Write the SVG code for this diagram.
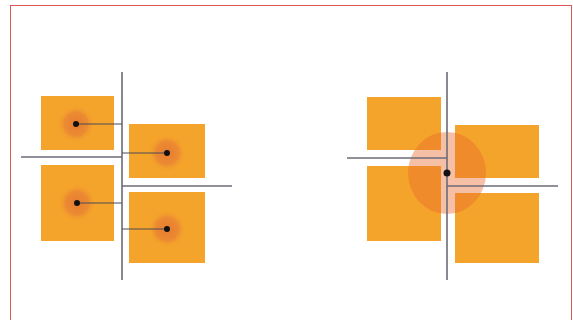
<svg xmlns="http://www.w3.org/2000/svg" width="573" height="320" viewBox="0 0 573 320">
<defs>
<radialGradient id="glow">
<stop offset="0" stop-color="#e67d30"/>
<stop offset="0.6" stop-color="#ec8a33"/>
<stop offset="1" stop-color="#f4a42a" stop-opacity="0"/>
</radialGradient>
</defs>
<style>
.sq{fill:#f4a42a}
.ln{stroke:#6b6b78;stroke-width:1.6;fill:none}
.cn{stroke:#4a4a55;stroke-width:1;fill:none}
.dot{fill:#111}
</style>
<rect x="10.5" y="5.5" width="561" height="330" fill="#fff" stroke="#e05555" stroke-width="1"/>
<g id="left">
<g id="sq-l1"><rect class="sq" x="41" y="96" width="73" height="54"/><circle cx="76" cy="124" r="19" fill="url(#glow)"/></g>
<g id="sq-l2"><rect class="sq" x="129" y="124" width="76" height="54"/><circle cx="167" cy="153" r="19" fill="url(#glow)"/></g>
<g id="sq-l3"><rect class="sq" x="41" y="165" width="73" height="76"/><circle cx="77" cy="203" r="19" fill="url(#glow)"/></g>
<g id="sq-l4"><rect class="sq" x="129" y="192" width="76" height="71"/><circle cx="167" cy="229" r="19" fill="url(#glow)"/></g>
</g>
<g id="right">
<g id="sq-r1"><rect class="sq" x="367" y="97" width="74" height="53"/></g>
<g id="sq-r2"><rect class="sq" x="455" y="125" width="84" height="53"/></g>
<g id="sq-r3"><rect class="sq" x="367" y="166" width="74" height="75"/></g>
<g id="sq-r4"><rect class="sq" x="455" y="193" width="84" height="70"/></g>
<g id="merged"><ellipse cx="447" cy="173" rx="39" ry="41" fill="#e8682a" fill-opacity="0.42"/></g>
</g>
<g id="connectors">
<line class="ln" x1="122" y1="72" x2="122" y2="280"/>
<line class="ln" x1="21" y1="157" x2="122" y2="157"/>
<line class="ln" x1="122" y1="186" x2="232" y2="186"/>
<line class="cn" x1="76" y1="124" x2="122" y2="124"/>
<line class="cn" x1="122" y1="153" x2="167" y2="153"/>
<line class="cn" x1="77" y1="203" x2="122" y2="203"/>
<line class="cn" x1="122" y1="229" x2="167" y2="229"/>
<line class="ln" x1="447" y1="72" x2="447" y2="280"/>
<line class="ln" x1="347" y1="158" x2="447" y2="158"/>
<line class="ln" x1="447" y1="186" x2="558" y2="186"/>
</g>
<g id="dots">
<circle class="dot" cx="76" cy="124" r="3"/>
<circle class="dot" cx="167" cy="153" r="3"/>
<circle class="dot" cx="77" cy="203" r="3"/>
<circle class="dot" cx="167" cy="229" r="3"/>
<circle class="dot" cx="447" cy="173" r="3.5"/>
</g>
</svg>
